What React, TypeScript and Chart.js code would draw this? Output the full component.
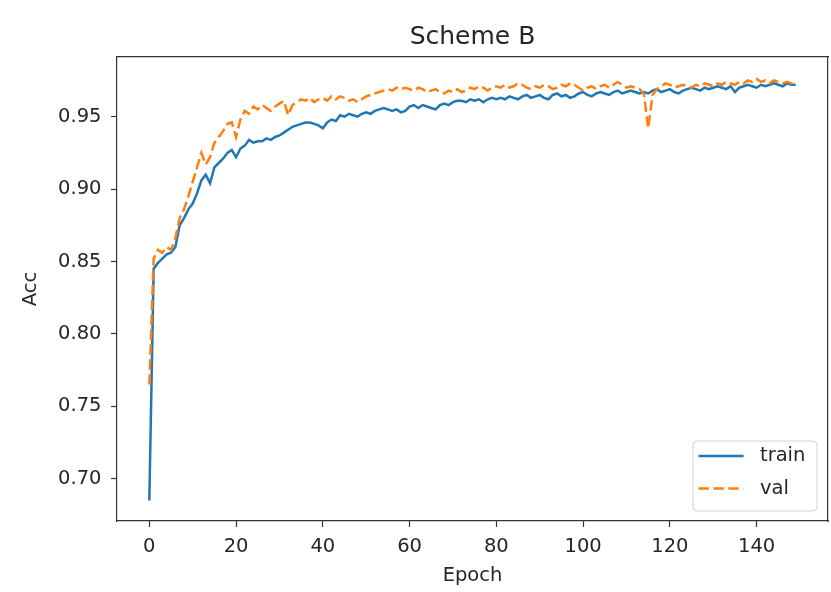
import React, { useEffect, useRef } from 'react';
import { Chart, registerables } from 'chart.js';

Chart.register(...registerables);

const chartTitle = 'Scheme B';
const xTitle = 'Epoch';
const yTitle = 'Acc';
const seriesLabels = ['train', 'val'];

const xTickValues = [0, 20, 40, 60, 80, 100, 120, 140];
const yTickValues = [0.7, 0.75, 0.8, 0.85, 0.9, 0.95];

const trainAcc = [
  0.685, 0.845, 0.849, 0.852, 0.855, 0.856, 0.86, 0.875, 0.88, 0.886,
  0.89, 0.897, 0.906, 0.91, 0.904, 0.915, 0.918, 0.921, 0.925, 0.927,
  0.922, 0.928, 0.93, 0.934, 0.932, 0.933, 0.933, 0.935, 0.934, 0.936,
  0.937, 0.939, 0.941, 0.943, 0.944, 0.945, 0.946, 0.946, 0.945, 0.944,
  0.942, 0.946, 0.948, 0.947, 0.951, 0.95, 0.952, 0.951, 0.95, 0.952,
  0.953, 0.952, 0.954, 0.955, 0.956, 0.955, 0.954, 0.955, 0.953, 0.954,
  0.957, 0.958, 0.956, 0.958, 0.957, 0.956, 0.955, 0.958, 0.959, 0.958,
  0.96, 0.961, 0.961, 0.96, 0.962, 0.961, 0.962, 0.96, 0.962, 0.963,
  0.962, 0.963, 0.962, 0.964, 0.963, 0.962, 0.964, 0.965, 0.963, 0.964,
  0.965, 0.963, 0.962, 0.965, 0.966, 0.964, 0.965, 0.963, 0.964, 0.966,
  0.967, 0.965, 0.964, 0.966, 0.967, 0.966, 0.965, 0.967, 0.968, 0.966,
  0.967, 0.968, 0.967, 0.966, 0.967, 0.966, 0.968, 0.969, 0.967, 0.968,
  0.969, 0.967, 0.966, 0.968, 0.969, 0.97, 0.969, 0.968, 0.97, 0.969,
  0.97, 0.971, 0.97, 0.969, 0.971, 0.967, 0.97, 0.971, 0.972, 0.971,
  0.97, 0.972, 0.971, 0.972, 0.973, 0.972, 0.971, 0.973, 0.972, 0.972,
];

const valAcc = [
  0.765, 0.852, 0.858, 0.856, 0.86, 0.858, 0.866, 0.88, 0.886, 0.895,
  0.905, 0.915, 0.925, 0.917, 0.922, 0.932, 0.936, 0.94, 0.945, 0.946,
  0.936, 0.948, 0.954, 0.952, 0.957, 0.955, 0.958, 0.956, 0.954, 0.957,
  0.959, 0.961, 0.951, 0.958, 0.96, 0.962, 0.961, 0.963, 0.96, 0.962,
  0.963, 0.961, 0.964, 0.962, 0.964, 0.963, 0.961, 0.962, 0.96, 0.962,
  0.964, 0.965, 0.966, 0.967, 0.968, 0.969, 0.968, 0.97, 0.969, 0.97,
  0.969, 0.968, 0.97, 0.969, 0.967, 0.968, 0.969, 0.967, 0.966, 0.968,
  0.967, 0.969, 0.967, 0.968, 0.97, 0.969, 0.971, 0.97, 0.968, 0.97,
  0.971, 0.97, 0.972, 0.97, 0.971, 0.973, 0.972, 0.97, 0.969, 0.971,
  0.97, 0.972, 0.971, 0.969, 0.97, 0.972, 0.971, 0.973, 0.972, 0.97,
  0.968, 0.97, 0.971, 0.969, 0.971, 0.972, 0.97, 0.972, 0.974, 0.972,
  0.97, 0.971, 0.97, 0.969, 0.966, 0.942, 0.965, 0.969, 0.971, 0.973,
  0.972, 0.97, 0.971, 0.972, 0.971, 0.97, 0.972, 0.971, 0.973, 0.972,
  0.971, 0.973, 0.972, 0.974, 0.973, 0.972, 0.974, 0.973, 0.975, 0.974,
  0.976, 0.974, 0.975, 0.973, 0.975, 0.974, 0.973, 0.974, 0.973, 0.972,
];

const epochs = trainAcc.map((_, i) => i);

const FONT = "'DejaVu Sans', sans-serif";
const TEXT = '#262626';
const SPINE = '#333333';
const TRAIN_COLOR = '#1f77b4';
const VAL_COLOR = '#ff7f0e';

const X_MIN = -7.45;
const X_MAX = 156.45;
const Y_MIN = 0.6708;
const Y_MAX = 0.9912;

const legendPlugin = {
  id: 'mplLegend',
  afterDatasetsDraw(chart: any) {
    const { ctx, chartArea } = chart;
    const w = 124;
    const h = 70;
    const right = chartArea.right - 11;
    const bottom = chartArea.bottom - 10;
    const left = right - w;
    const top = bottom - h;
    ctx.save();
    ctx.beginPath();
    if (ctx.roundRect) ctx.roundRect(left, top, w, h, 4);
    else ctx.rect(left, top, w, h);
    ctx.fillStyle = 'rgba(255,255,255,0.8)';
    ctx.fill();
    ctx.strokeStyle = '#d4d4d4';
    ctx.lineWidth = 1;
    ctx.stroke();
    chart.data.datasets.forEach((ds: any, i: number) => {
      const y = top + 15 + i * 32.6;
      ctx.beginPath();
      ctx.setLineDash(ds.borderDash || []);
      ctx.strokeStyle = ds.borderColor;
      ctx.lineWidth = ds.borderWidth;
      ctx.moveTo(left + 5.5, y);
      ctx.lineTo(left + 50.5, y);
      ctx.stroke();
      ctx.setLineDash([]);
      ctx.fillStyle = TEXT;
      ctx.font = `19.5px ${FONT}`;
      ctx.textBaseline = 'middle';
      ctx.textAlign = 'left';
      ctx.fillText(ds.label, left + 67, y);
    });
    ctx.restore();
  },
};

export default function App() {
  const canvasRef = useRef<HTMLCanvasElement | null>(null);

  useEffect(() => {
    document.body.style.margin = '0';
    const canvas = canvasRef.current;
    if (!canvas) return;
    const chart = new Chart(canvas, {
      type: 'line',
      data: {
        datasets: [
          {
            label: seriesLabels[0],
            data: epochs.map((e, i) => ({ x: e, y: trainAcc[i] })),
            borderColor: TRAIN_COLOR,
            backgroundColor: TRAIN_COLOR,
            borderWidth: 2.5,
            pointRadius: 0,
            tension: 0,
            fill: false,
            order: 1,
            xAxisID: 'x',
            yAxisID: 'y',
          },
          {
            label: seriesLabels[1],
            data: epochs.map((e, i) => ({ x: e, y: valAcc[i] })),
            borderColor: VAL_COLOR,
            backgroundColor: VAL_COLOR,
            borderWidth: 2.5,
            borderDash: [10.4, 4.5],
            pointRadius: 0,
            tension: 0,
            fill: false,
            order: 0,
            xAxisID: 'x',
            yAxisID: 'y',
          },
        ],
      },
      options: {
        responsive: false,
        animation: false,
        devicePixelRatio: 1,
        layout: { padding: 0 },
        plugins: {
          legend: { display: false },
          title: { display: false },
          tooltip: { enabled: false },
        },
        scales: {
          x: {
            type: 'linear',
            position: 'bottom',
            min: X_MIN,
            max: X_MAX,
            afterBuildTicks: (s: any) => {
              s.ticks = xTickValues.map((v) => ({ value: v }));
            },
            afterFit: (s: any) => {
              s.height = 71;
            },
            ticks: {
              color: TEXT,
              font: { family: FONT, size: 19.5 },
              padding: 8,
              maxRotation: 0,
              autoSkip: false,
              callback: (v: any) => String(v),
            },
            grid: {
              drawOnChartArea: false,
              drawTicks: true,
              tickLength: 6,
              tickColor: SPINE,
              tickWidth: 1.2,
            },
            border: { display: true, color: SPINE, width: 1.2 },
            title: {
              display: true,
              text: xTitle,
              color: TEXT,
              font: { family: FONT, size: 19.5 },
              padding: { top: 0, bottom: 4.5 },
            },
          },
          xTop: {
            type: 'linear',
            position: 'top',
            min: X_MIN,
            max: X_MAX,
            afterFit: (s: any) => {
              s.height = 57;
            },
            ticks: { display: false },
            grid: { drawOnChartArea: false, drawTicks: false },
            border: { display: true, color: SPINE, width: 1.2 },
            title: {
              display: true,
              text: chartTitle,
              color: TEXT,
              font: { family: FONT, size: 25 },
              padding: { top: 22, bottom: 0 },
            },
          },
          y: {
            type: 'linear',
            position: 'left',
            min: Y_MIN,
            max: Y_MAX,
            afterBuildTicks: (s: any) => {
              s.ticks = yTickValues.map((v) => ({ value: v }));
            },
            afterFit: (s: any) => {
              s.width = 117;
            },
            ticks: {
              color: TEXT,
              font: { family: FONT, size: 19.5 },
              padding: 9.5,
              autoSkip: false,
              callback: (v: any) => Number(v).toFixed(2),
            },
            grid: {
              drawOnChartArea: false,
              drawTicks: true,
              tickLength: 6,
              tickColor: SPINE,
              tickWidth: 1.2,
            },
            border: { display: true, color: SPINE, width: 1.2 },
            title: {
              display: true,
              text: yTitle,
              color: TEXT,
              font: { family: FONT, size: 19.5 },
              padding: { top: 19, bottom: 0 },
            },
          },
          yRight: {
            type: 'linear',
            position: 'right',
            min: Y_MIN,
            max: Y_MAX,
            afterFit: (s: any) => {
              s.width = 3;
            },
            ticks: { display: false },
            grid: { drawOnChartArea: false, drawTicks: false },
            border: { display: true, color: SPINE, width: 1.2 },
          },
        },
      },
      plugins: [legendPlugin],
    } as any);
    return () => chart.destroy();
  }, []);

  return (
    <div style={{ width: 831, height: 592, background: '#fff' }}>
      <canvas ref={canvasRef} width={831} height={592} style={{ display: 'block' }} />
    </div>
  );
}
